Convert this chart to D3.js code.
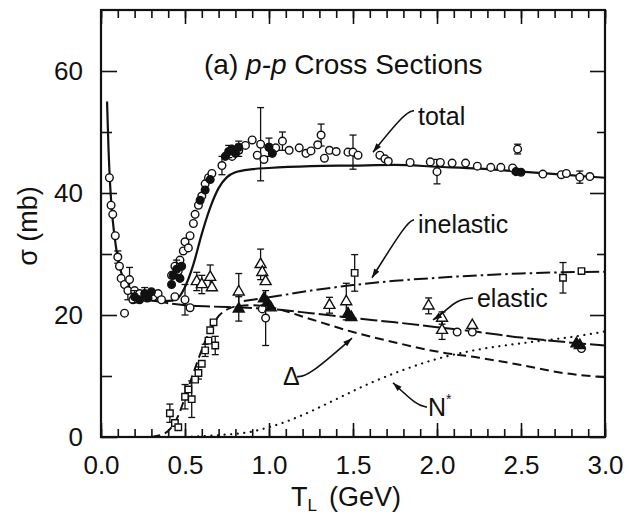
<!DOCTYPE html>
<html>
<head>
<meta charset="utf-8">
<script src="https://cdn.jsdelivr.net/npm/d3@7"></script>
<style>
  body { margin: 0; background: #fff; }
  text { font-family: "Liberation Sans", Arial, Helvetica, sans-serif; fill: #111; }
</style>
</head>
<body>
<div class="graph"></div>
<script>
// curves [T (GeV), sigma (mb)]
var totalCurve = [[0.036,55],[0.045,47],[0.055,41],[0.07,35.5],[0.09,31],[0.12,27],[0.16,24.5],[0.2,23.2],[0.3,22.4],[0.4,22.3],
  [0.45,22.6],[0.5,24.6],[0.55,28.3],[0.6,33.3],[0.65,37.6],[0.7,40.8],[0.75,42.6],[0.8,43.4],[0.9,43.9],[1.0,44.1],
  [1.25,44.4],[1.5,44.5],[1.75,44.6],[2.0,44.3],[2.25,44],[2.5,43.5],[2.75,43],[3.0,42.5]];
var elasticCurve = [[0.3,22.4],[0.5,21.6],[0.75,21.3],[1.0,21],[1.25,20.3],[1.5,19.5],[1.75,18.8],[2.0,18],[2.25,17.2],
  [2.5,16.3],[2.75,15.6],[3.0,15]];
var deltaCurve = [[0.3,0],[0.38,0.6],[0.42,1.6],[0.46,3.5],[0.5,6.5],[0.55,10.5],[0.6,14.3],[0.65,17.5],[0.7,19.8],[0.75,20.9],
  [0.8,21.4],[0.9,21.6],[1.0,21.3],[1.25,19.3],[1.5,17.2],[1.75,15.5],[2.0,14],[2.25,13],[2.5,11.8],[2.75,10.5],[3.0,9.8]];
var inelasticCurve = [[0.85,22.3],[1.0,22.9],[1.25,24],[1.5,24.9],[1.75,25.6],[2.0,26.1],[2.25,26.5],[2.5,26.8],[2.75,27],[3.0,27.1]];
var nstarCurve = [[0.5,0],[0.7,0.3],[0.9,0.9],[1.0,1.6],[1.1,2.5],[1.2,3.6],[1.4,6.2],[1.6,8.8],[1.8,11],[2.0,12.8],
  [2.2,14.1],[2.4,15],[2.6,15.7],[2.8,16.4],[3.0,17.3]];

// measurements [T, sigma, error]
var totalOpen = [[0.05,42.5,0],[0.06,38,0],[0.07,36.5,0],[0.085,33,0],[0.1,29.5,1],[0.11,28,0],[0.12,26,0],[0.14,25,0],
  [0.16,24,1.5],[0.14,20.3,0],[0.17,25.8,2],[0.19,22.5,0],[0.2,24,0],[0.23,23.5,0],[0.27,22.8,0],[0.31,23,0],[0.34,23.5,0],
  [0.36,22.5,0],[0.44,23,0],[0.5,22.5,2.5],
  [0.42,26.5,0],[0.44,28,0],[0.46,27.2,0],[0.47,29,0],[0.49,30.5,0],[0.5,32,0],[0.52,31,0],[0.53,33,0],[0.55,35,0],
  [0.56,36.5,0],[0.58,38,0],[0.6,39.5,0],[0.62,41.5,0],[0.64,42.5,0],[0.66,43.2,0],
  [0.72,44.5,1.5],[0.78,46,0],[0.82,47,1],[0.86,47.8,0],[0.9,48.7,0],[0.93,46.2,0],[0.95,48,6],[0.97,45.5,0],[1.0,47.5,0],
  [1.04,47.4,0],[1.08,48.5,1.5],[1.12,47,0],[1.18,47.4,0],[1.22,46.5,0],[1.25,46.9,0],[1.29,47.9,0],[1.31,49.5,1.8],
  [1.33,45.7,0],[1.36,47,0],[1.4,46.8,0],[1.47,46.7,0],[1.5,46.7,2.8],[1.53,46.2,0],[1.66,46.2,0],[1.69,45.6,0],
  [1.71,45.2,0],[1.84,45,0],[1.96,45.1,0],[2.0,43.5,2],[2.02,45,0],[2.09,44.9,0],[2.17,44.9,0],[2.24,44.4,0],
  [2.32,44.2,0],[2.38,44.2,0],[2.45,44.1,0],[2.48,47.2,0.8],[2.63,43.1,0],[2.74,43,0],[2.77,43.2,0],[2.85,42.6,1],
  [2.91,42.7,0]];
var totalFilled = [[0.2,23,1],[0.23,22.5,0],[0.26,23.5,1],[0.28,22.8,0],[0.3,23.8,0],[0.42,25,0],[0.43,26.5,0],
  [0.45,27.5,1.5],[0.47,26,0],[0.48,28,0],[0.59,38.8,0],[0.62,40.5,0],[0.65,42.2,0],[0.74,46,0],[0.76,46.8,1],
  [0.78,47.2,0],[0.8,46.5,0],[0.82,47.5,1],[1.0,47.5,1.5],[1.02,46.5,0],[2.47,43.5,0],[2.5,43.4,0]];
var elasticOpen = [[0.98,19.5,4.5],[0.96,21,0],[0.53,21.2,0],[2.12,17.2,0],[2.21,17.2,0],[2.86,14.5,0]];
var elasticTri = [[0.57,25.5,1.5],[0.6,25,1.5],[0.65,26.2,2],[0.66,24.5,0],[0.82,23.8,3],[0.95,28.3,2.5],[0.96,27,0],
  [0.98,25.5,0],[1.36,21.6,1.3],[1.46,22.2,3],[1.95,21.5,1.3],[2.03,19.5,1],[2.03,17.5,1.5],[2.21,18.3,0]];
var elasticFilled = [[0.82,21,2],[0.97,22.7,0],[0.99,22,0],[1.01,21.2,0],[1.47,20.2,0],[1.49,19.6,0],[2.83,15.3,0],[2.85,15,0]];
var deltaSq = [[0.41,3.9,1.5],[0.44,2.3,0],[0.46,1.6,0],[0.5,6.6,2],[0.52,7.8,0],[0.54,6.2,3],[0.56,9.4,0],[0.58,10.5,1],
  [0.6,12,0],[0.62,14.2,1],[0.64,15.8,0],[0.65,17.5,0],[0.67,18.8,0],[0.68,15,1.5]];
var inelasticSq = [[1.51,26.9,3],[2.75,26.1,2.5],[2.86,27.2,0]];

var xTicks = [0, 0.5, 1.0, 1.5, 2.0, 2.5, 3.0];
var xMinor = d3.range(0, 3.01, 0.1);
var yTicks = [0, 20, 40, 60];
var yMinor = [10, 30, 50];

// annotations: label, text position, leader path (data units)
var labels = [
  {text: "total", at: [1.887, 51.1], path: [[1.863,53.5],[1.81,53.2],[1.619,46.7]]},
  {text: "inelastic", at: [1.887, 33.4], path: [[1.863,35.6],[1.82,35.2],[1.613,26.1]]},
  {text: "elastic", at: [2.238, 21.3], path: [[2.214,22.8],[2.119,22.5],[2.036,20.3],[1.976,19.2]]},
  {text: "Δ", at: [1.083, 8.5], path: [[1.167,9.9],[1.232,9.9],[1.494,16.2]]},
  {text: "N", at: [1.946, 3.4], path: [[1.94,4.9],[1.88,5.2],[1.738,8.9]]}
];

var WIDTH = 629, HEIGHT = 518;
var x = d3.scaleLinear().domain([0, 3]).range([101, 605]);
var y = d3.scaleLinear().domain([0, 70]).range([437, 10]);

var svg = d3.select(".graph").append("svg")
  .attr("width", WIDTH).attr("height", HEIGHT);
svg.append("rect").attr("width", WIDTH).attr("height", HEIGHT).attr("fill", "#fff");

// axes with inward ticks
var fmt = d3.format(".1f");
svg.append("g").attr("transform", "translate(0,437)")
  .call(d3.axisBottom(x).tickValues(xMinor).tickSize(-8).tickFormat(""));
svg.append("g").attr("class", "xlab").attr("transform", "translate(0,437)")
  .call(d3.axisBottom(x).tickValues(xTicks).tickSize(-14).tickPadding(19).tickFormat(fmt));
svg.append("g").attr("transform", "translate(0,10)")
  .call(d3.axisTop(x).tickValues(xMinor).tickSize(-8).tickFormat(""));
svg.append("g").attr("transform", "translate(0,10)")
  .call(d3.axisTop(x).tickValues(xTicks).tickSize(-14).tickFormat(""));
svg.append("g").attr("class", "ylab").attr("transform", "translate(101,0)")
  .call(d3.axisLeft(y).tickValues(yTicks).tickSize(-16).tickPadding(18).tickFormat(d3.format("d")));
svg.append("g").attr("transform", "translate(101,0)")
  .call(d3.axisLeft(y).tickValues(yMinor).tickSize(-11).tickFormat(""));
svg.append("g").attr("transform", "translate(605,0)")
  .call(d3.axisRight(y).tickValues(yTicks).tickSize(-15).tickFormat(""));
svg.append("g").attr("transform", "translate(605,0)")
  .call(d3.axisRight(y).tickValues(yMinor).tickSize(-8).tickFormat(""));
svg.selectAll(".domain").remove();
svg.selectAll(".tick line").attr("stroke", "#111").attr("stroke-width", 1.6);
svg.selectAll(".tick text").style("font-size", "26px").attr("fill", "#111")
  .style("font-family", "'Liberation Sans', Arial, sans-serif");
svg.append("rect").attr("x", x(0)).attr("y", y(70))
  .attr("width", x(3) - x(0)).attr("height", y(0) - y(70))
  .attr("fill", "none").attr("stroke", "#111").attr("stroke-width", 2.2);

var plot = svg.append("g");
var line = d3.line().x(d => x(d[0])).y(d => y(d[1])).curve(d3.curveMonotoneX);

plot.append("path").datum(totalCurve).attr("d", line)
  .attr("fill", "none").attr("stroke", "#111").attr("stroke-width", 2.2);
plot.append("path").datum(elasticCurve).attr("d", line)
  .attr("fill", "none").attr("stroke", "#111").attr("stroke-width", 2).attr("stroke-dasharray", "17,4");
plot.append("path").datum(deltaCurve).attr("d", line)
  .attr("fill", "none").attr("stroke", "#111").attr("stroke-width", 2).attr("stroke-dasharray", "9,5");
plot.append("path").datum(inelasticCurve).attr("d", line)
  .attr("fill", "none").attr("stroke", "#111").attr("stroke-width", 2).attr("stroke-dasharray", "14,4,2.5,4");
plot.append("path").datum(nstarCurve).attr("d", line)
  .attr("fill", "none").attr("stroke", "#111").attr("stroke-width", 2.2)
  .attr("stroke-dasharray", "0.1,6.5").attr("stroke-linecap", "round");

// error bars then markers
function errBars(data) {
  var g = plot.append("g").attr("stroke", "#111").attr("stroke-width", 1.3);
  data.filter(d => d[2] > 0).forEach(function (d) {
    var cx = x(d[0]), y1 = y(d[1] + d[2]), y2 = y(d[1] - d[2]);
    g.append("line").attr("x1", cx).attr("x2", cx).attr("y1", y1).attr("y2", y2);
    g.append("line").attr("x1", cx - 3.5).attr("x2", cx + 3.5).attr("y1", y1).attr("y2", y1);
    g.append("line").attr("x1", cx - 3.5).attr("x2", cx + 3.5).attr("y1", y2).attr("y2", y2);
  });
}
function markers(data, type, filled) {
  errBars(data);
  var sym = d3.symbol().type(type).size(type === d3.symbolCircle ? 46 : (type === d3.symbolTriangle ? 52 : 42));
  plot.append("g").selectAll("path").data(data).join("path")
    .attr("d", sym)
    .attr("transform", d => "translate(" + x(d[0]) + "," + y(d[1]) + ")")
    .attr("fill", filled ? "#111" : "#fff")
    .attr("stroke", "#111").attr("stroke-width", 1.4);
}
markers(totalOpen, d3.symbolCircle, false);
markers(totalFilled, d3.symbolCircle, true);
markers(elasticOpen, d3.symbolCircle, false);
markers(elasticTri, d3.symbolTriangle, false);
markers(elasticFilled, d3.symbolTriangle, true);
markers(deltaSq, d3.symbolSquare, false);
markers(inelasticSq, d3.symbolSquare, false);

// labels and leader arrows
var lead = d3.line().x(d => x(d[0])).y(d => y(d[1])).curve(d3.curveBasis);
labels.forEach(function (l) {
  svg.append("path").datum(l.path).attr("d", lead)
    .attr("fill", "none").attr("stroke", "#111").attr("stroke-width", 1.6);
  var n = l.path.length, a = l.path[n - 2], b = l.path[n - 1];
  var ang = Math.atan2(y(b[1]) - y(a[1]), x(b[0]) - x(a[0])) * 180 / Math.PI;
  svg.append("path").attr("d", "M0,0L-9,-3L-9,3Z").attr("fill", "#111")
    .attr("transform", "translate(" + x(b[0]) + "," + y(b[1]) + ") rotate(" + ang + ")");
  var t = svg.append("text").attr("x", x(l.at[0])).attr("y", y(l.at[1]))
    .style("font-size", "25px").text(l.text);
  if (l.text === "N") {
    t.append("tspan").attr("dy", -12).style("font-size", "14px").text("*");
  }
});

// title
var title = svg.append("text").attr("x", 204).attr("y", 74).style("font-size", "28px");
title.append("tspan").text("(a) ");
title.append("tspan").style("font-style", "italic").text("p-p");
title.append("tspan").text(" Cross Sections");

// axis titles
svg.append("text").attr("transform", "translate(37,226) rotate(-90)")
  .attr("text-anchor", "middle").style("font-size", "27px").text("σ (mb)");
var xt = svg.append("text").attr("x", 291).attr("y", 506).style("font-size", "27px");
xt.append("tspan").text("T");
xt.append("tspan").attr("dy", 5).style("font-size", "17px").text("L");
xt.append("tspan").attr("dy", -5).attr("dx", 12).text("(GeV)");
</script>
</body>
</html>
